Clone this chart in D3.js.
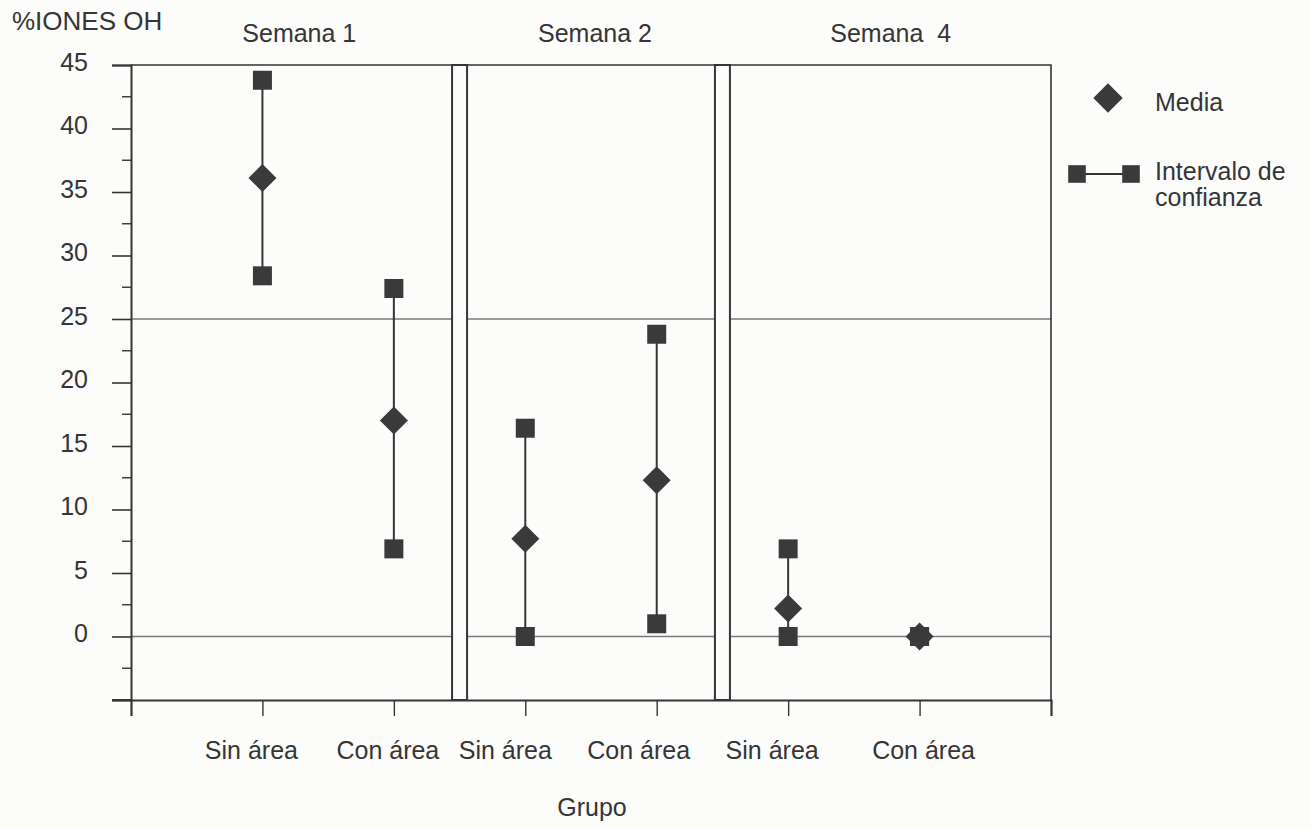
<!DOCTYPE html>
<html>
<head>
<meta charset="utf-8">
<script src="https://cdn.jsdelivr.net/npm/d3@7"></script>
<style>
  html, body { margin: 0; padding: 0; background: #fcfcfb; }
  svg { display: block; }
  text { font-family: "Liberation Sans", Arial, sans-serif; fill: #353535; }
</style>
</head>
<body>
<svg id="chart" width="1310" height="828"></svg>
<script>
// Week groups and the groups plotted within them
const weeks = ["Semana 1", "Semana 2", "Semana  4"];
const categories = ["Sin área", "Con área", "Sin área", "Con área", "Sin área", "Con área"];
// Mean and 95% confidence interval bounds (%IONES OH)
const media = [36.1, 17.0, 7.7, 12.3, 2.2, 0];
const lower = [28.4, 6.9, 0, 1.0, 0, 0];
const upper = [43.8, 27.4, 16.4, 23.8, 6.9, 0];
const yTicks = [-5, 0, 5, 10, 15, 20, 25, 30, 35, 40, 45];
const gridValues = [0, 25];

// layout
const plotL = 131, plotR = 1051, plotT = 65, plotB = 700;
const ink = "#353535";
const labelNudge = [-11, -6, -20, -18, -16, 4];

const svg = d3.select("#chart");
const x = d3.scaleLinear().domain([0, categories.length + 1]).range([plotL, plotR]);
const y = d3.scaleLinear().domain([-5, 45]).range([plotB, plotT]);

// horizontal gridlines
svg.append("g").selectAll("line").data(gridValues).join("line")
  .attr("x1", plotL).attr("x2", plotR)
  .attr("y1", d => y(d)).attr("y2", d => y(d))
  .attr("stroke", "#7a7a7a").attr("stroke-width", 1.3);

// plot frame (top and right)
svg.append("path")
  .attr("d", `M${plotL},${plotT}H${plotR}V${plotB}`)
  .attr("fill", "none").attr("stroke", ink).attr("stroke-width", 1.6);

// y axis with major and minor ticks
const yAxis = svg.append("g").attr("transform", `translate(${plotL},0)`)
  .call(d3.axisLeft(y).tickValues(yTicks).tickSize(19).tickPadding(24)
    .tickFormat(d => d < 0 ? "" : d));
yAxis.select(".domain").attr("stroke", ink).attr("stroke-width", 2);
yAxis.selectAll(".tick line").attr("stroke", ink).attr("stroke-width", 1.6);
yAxis.selectAll(".tick text")
  .style("font-size", "25px").attr("fill", "#353535").attr("dy", "0.2em");
const minor = d3.range(-2.5, 45, 5);
svg.append("g").selectAll("line").data(minor).join("line")
  .attr("x1", plotL - 9).attr("x2", plotL)
  .attr("y1", d => y(d)).attr("y2", d => y(d))
  .attr("stroke", ink).attr("stroke-width", 1.4);

// x axis
const xAxis = svg.append("g").attr("transform", `translate(0,${plotB})`)
  .call(d3.axisBottom(x).tickValues(d3.range(0, categories.length + 2)).tickSize(16).tickFormat(""));
xAxis.select(".domain").attr("stroke", ink).attr("stroke-width", 2);
xAxis.selectAll(".tick line").attr("stroke", ink).attr("stroke-width", 1.4);
svg.append("line").attr("x1", plotL - 19).attr("x2", plotL)
  .attr("y1", plotB).attr("y2", plotB).attr("stroke", ink).attr("stroke-width", 2);

// category labels
svg.append("g").selectAll("text").data(categories).join("text")
  .attr("x", (d, i) => x(i + 1) + labelNudge[i])
  .attr("y", 759)
  .attr("text-anchor", "middle")
  .style("font-size", "25px")
  .text(d => d);

// week separators (double lines)
const seps = [2.5, 4.5];
svg.append("g").selectAll("rect").data(seps).join("rect")
  .attr("x", d => x(d) - 7.5).attr("width", 15)
  .attr("y", plotT).attr("height", plotB - plotT)
  .attr("fill", "#fcfcfb").attr("stroke", ink).attr("stroke-width", 2);

// week titles
const weekBounds = [[0, 2.5], [2.5, 4.5], [4.5, 7]];
svg.append("g").selectAll("text").data(weeks).join("text")
  .attr("x", (d, i) => (x(weekBounds[i][0]) + x(weekBounds[i][1])) / 2 + 4)
  .attr("y", 42)
  .attr("text-anchor", "middle")
  .style("font-size", "25px")
  .style("white-space", "pre")
  .text(d => d);

// axis titles
svg.append("text").attr("x", 12).attr("y", 30)
  .style("font-size", "26px").text("%IONES OH");
svg.append("text").attr("x", 592).attr("y", 816)
  .attr("text-anchor", "middle").style("font-size", "25px").text("Grupo");

// confidence intervals
const rows = categories.map((c, i) => ({ i, lo: lower[i], hi: upper[i], m: media[i] }));
const marks = svg.append("g");
marks.selectAll("line.ci").data(rows).join("line").attr("class", "ci")
  .attr("x1", d => x(d.i + 1)).attr("x2", d => x(d.i + 1))
  .attr("y1", d => y(d.lo)).attr("y2", d => y(d.hi))
  .attr("stroke", ink).attr("stroke-width", 2);

const squareSym = d3.symbol().type(d3.symbolSquare).size(361);
const ends = rows.flatMap(d => [{ i: d.i, v: d.lo }, { i: d.i, v: d.hi }]);
marks.selectAll("path.end").data(ends).join("path").attr("class", "end")
  .attr("d", squareSym)
  .attr("transform", d => `translate(${x(d.i + 1)},${y(d.v)})`)
  .attr("fill", "#3a3a3a");

// means
const diamondSym = d3.symbol().type(d3.symbolSquare).size(392);
marks.selectAll("path.mean").data(rows).join("path").attr("class", "mean")
  .attr("d", diamondSym)
  .attr("transform", d => `translate(${x(d.i + 1)},${y(d.m)}) rotate(45)`)
  .attr("fill", "#3a3a3a");

// legend
const lg = svg.append("g");
lg.append("path").attr("d", d3.symbol().type(d3.symbolSquare).size(430))
  .attr("transform", "translate(1108,98) rotate(45)").attr("fill", "#3a3a3a");
lg.append("text").attr("x", 1155).attr("y", 111).style("font-size", "25px").text("Media");
lg.append("line").attr("x1", 1077).attr("x2", 1131).attr("y1", 174).attr("y2", 174)
  .attr("stroke", ink).attr("stroke-width", 2);
lg.selectAll("path.lsq").data([1077, 1131]).join("path").attr("class", "lsq")
  .attr("d", d3.symbol().type(d3.symbolSquare).size(310))
  .attr("transform", d => `translate(${d},174)`).attr("fill", "#3a3a3a");
lg.append("text").attr("x", 1155).attr("y", 180).style("font-size", "25px").text("Intervalo de");
lg.append("text").attr("x", 1155).attr("y", 206).style("font-size", "25px").text("confianza");
</script>
</body>
</html>
